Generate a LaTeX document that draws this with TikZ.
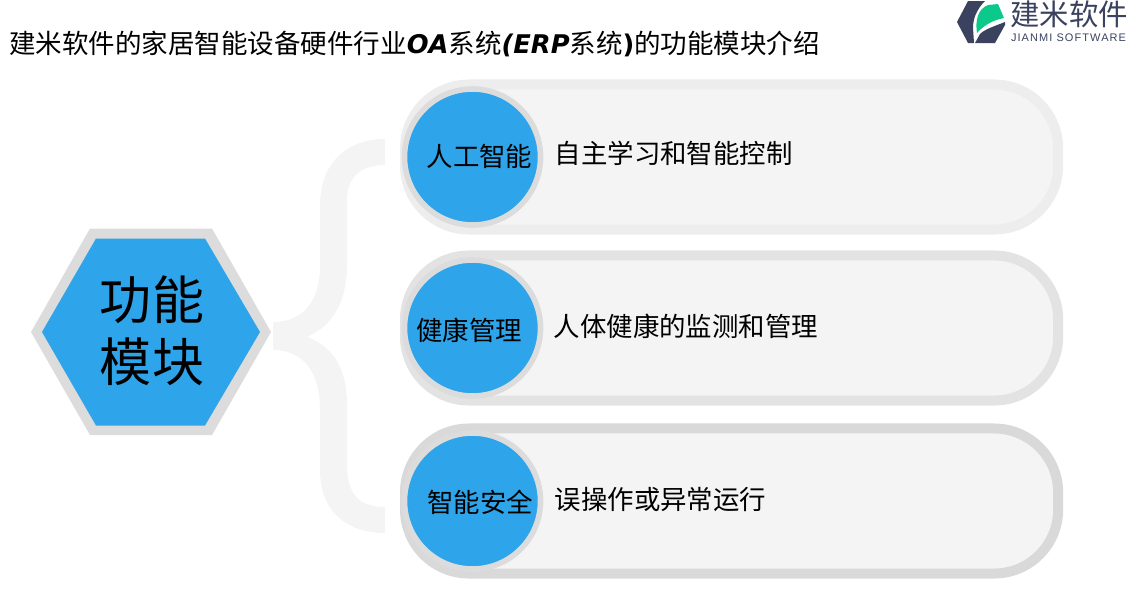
\documentclass[tikz,border=0pt]{standalone}
\usepackage{fontspec}
\setmainfont{Noto Sans CJK SC}
\newfontfamily\latinfont{Liberation Sans}
\newfontfamily\titlefont[Scale=0.97]{DejaVu Sans}
\usepackage{xcolor}
\definecolor{badgeblue}{HTML}{2EA4EA}
\definecolor{ringgrey}{HTML}{DCDCDC}
\definecolor{panelgrey}{HTML}{F4F4F4}
\definecolor{logonavy}{HTML}{3A4260}
\definecolor{logogreen}{HTML}{0BC98A}

\begin{document}
\begin{tikzpicture}[
		x=0.025cm, y=-0.025cm,
		capsule/.style={draw, line width=0.25cm, outer sep=0pt, minimum width=16.325cm, minimum height=3.625cm, rounded corners=1.6cm, fill=panelgrey, anchor=west},
		badge/.style={circle, draw=ringgrey, line width=0.14cm, fill=badgeblue, minimum size=3.4cm, inner sep=0pt},
		badgetext/.style={font=\fontsize{18.8pt}{20pt}\selectfont, text=black, inner sep=0pt},
		caption/.style={font=\fontsize{18.8pt}{20pt}\selectfont, text=black, anchor=west, inner sep=0pt}
		]
		\useasboundingbox (0,0) rectangle (1130,600);
		
		% Brace
		\fill[panelgrey] (385,139) .. controls (345,139) and (320,165) .. (320,205) -- (320,265)
			.. controls (320,305) and (300,322) .. (273,322) -- (273,350)
			.. controls (300,350) and (320,368) .. (320,410) -- (320,470)
			.. controls (320,510) and (345,533) .. (385,533) -- (385,507)
			.. controls (360,507) and (347,495) .. (347,465) -- (347,405)
			.. controls (347,365) and (330,345) .. (307,337)
			.. controls (330,327) and (347,305) .. (347,265) -- (347,200)
			.. controls (347,178) and (360,165) .. (385,165) -- cycle;
		
		% Hexagon
		\fill[ringgrey] (31,332) -- (90,228.5) -- (212,228.5) -- (271,332) -- (212,435) -- (90,435) -- cycle;
		\fill[badgeblue] (42,332) -- (96,238.5) -- (205,238.5) -- (260,332) -- (205,425.5) -- (96,425.5) -- cycle;
		\node[align=center, inner sep=0pt, font=\fontsize{37pt}{44pt}\selectfont] (module) at (152,331) {功能\\模块};
		
		% Capsules
		\node[capsule, draw=black!7] (panel1) at (405,157) {};
		\node[capsule, draw=black!11] (panel2) at (405,328) {};
		\node[capsule, draw=black!15] (panel3) at (405,501) {};
		
		% Circles
		\node[badge] (ai) at (472.5,157) {};
		\node[badge] (health) at (472.5,328) {};
		\node[badge] (safety) at (472.5,501) {};
		
		% Labels
		\node[badgetext] (ailabel) at (479.5,156) {人工智能};
		\node[badgetext] (healthlabel) at (469,330) {健康管理};
		\node[badgetext] (safetylabel) at (480,502) {智能安全};
		\node[caption] (aitext) at (554.5,153) {自主学习和智能控制};
		\node[caption] (healthtext) at (553.5,326) {人体健康的监测和管理};
		\node[caption] (safetytext) at (554.5,499) {误操作或异常运行};
		\node[anchor=west, inner sep=0pt, font=\fontsize{18.85pt}{20pt}\selectfont] (title) at (9,44)
			{建米软件的家居智能设备硬件行业{\titlefont\bfseries\itshape OA}系统{\titlefont\bfseries\itshape (ERP}系统{\titlefont\bfseries )}的功能模块介绍};
		
		% Logo
		\fill[logonavy] (957,22) -- (968,1) -- (985,1) .. controls (977,9) and (973,18) .. (973,28) -- (974,43) -- (968,43) -- cycle;
		\fill[logonavy] (975,43) -- (980,34) .. controls (985,29) and (995,26) .. (1005,22) -- (1005,25) -- (995,43) -- cycle;
		\fill[logogreen] (977,33) .. controls (975,20) and (978,9) .. (988,5) -- (998,4) -- (1004,18) .. controls (994,20) and (985,24) .. (977,33) -- cycle;
		\node[inner sep=0pt, text=logonavy, font=\fontsize{20.9pt}{22pt}\selectfont] (logocn) at (1069,14) {建米软件};
		\node[inner sep=0pt, text=logonavy, font=\latinfont\fontsize{7.8pt}{9pt}\selectfont] (logoen) at (1068.5,38) {\addfontfeature{LetterSpace=10}JIANMI SOFTWARE};
		
	\end{tikzpicture}
\end{document}
